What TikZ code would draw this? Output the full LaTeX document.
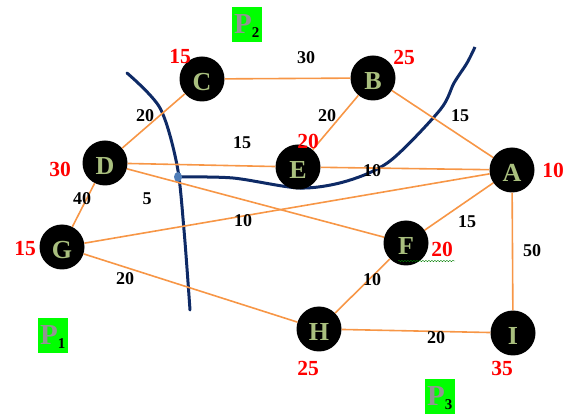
\documentclass[tikz,border=0pt]{standalone}
\usepackage{fontspec}
\setmainfont{Liberation Serif}
\usetikzlibrary{decorations.pathmorphing}
\definecolor{edgeor}{HTML}{F79646}
\definecolor{letgr}{HTML}{A9BF7E}
\definecolor{cutblue}{HTML}{0E2A66}
\definecolor{dotblue}{HTML}{4F7DB8}
\definecolor{pgreen}{HTML}{00FF00}
\tikzset{
  v/.style={circle,fill=black,minimum size=45pt,inner sep=0pt,text=letgr,text height=24pt,text depth=0pt,
    font=\fontsize{26}{26}\selectfont\bfseries},
  e/.style={draw=edgeor,line width=1.6pt},
  wt/.style={inner sep=0pt,font=\fontsize{18}{18}\selectfont\bfseries},
  cost/.style={inner sep=0pt,text=red,font=\fontsize{21.5}{21.5}\selectfont\bfseries},
  pl/.style={fill=pgreen,minimum width=30pt,minimum height=35pt,inner sep=0pt,text height=22pt,text depth=4pt,
    font=\fontsize{29}{29}\selectfont\bfseries},
  cut/.style={draw=cutblue,line width=3pt},
}
\newcommand{\plabel}[1]{{\color{gray!85}P}\textsubscript{\fontsize{15}{15}\selectfont #1}}

\begin{document}
\begin{tikzpicture}[x=1pt,y=-1pt]
\useasboundingbox (0,0) rectangle (574,414);
% cut lines
\draw[cut,line cap=round] plot[smooth] coordinates {(127,73) (160,108) (177,165) (184,230) (190,310)};
\draw[cut] plot[smooth] coordinates {(178,177) (233,178) (300,188) (347,181) (390,161) (440,110) (454,83) (467,63) (475,47)};
\fill[dotblue] (178,177) ellipse (4pt and 5pt);
% vertices
\node[v] (C) at (202,79){C}; \node[v] (B) at (373,78){B}; \node[v] (D) at (105,163){D};
\node[v] (E) at (298,167){E}; \node[v] (A) at (512,170){A}; \node[v] (G) at (62,247){G};
\node[v] (F) at (406,243){F}; \node[v] (H) at (319,329){H}; \node[v] (I) at (513,333){I};
\draw[line width=0.6pt] (382,77)--(382,98);
% edges
\draw[e] (C)--(B); \draw[e] (C)--(D); \draw[e] (D)--(E); \draw[e] (B)--(E); \draw[e] (B)--(A);
\draw[e] (E)--(A); \draw[e] (D)--(F); \draw[e] (G)--(A); \draw[e] (D)--(G); \draw[e] (G)--(H);
\draw[e] (F)--(A); \draw[e] (H)--(F); \draw[e] (H)--(I); \draw[e] (A)--(I);
% edge weights
\node[wt] (wCB) at (306,58){30}; \node[wt] (wCD) at (145,116){20}; \node[wt] (wDE) at (242,143){15};
\node[wt] (wBE) at (327,116){20}; \node[wt] (wBA) at (460,116){15}; \node[wt] (wEA) at (372,171){10};
\node[wt] (wDG) at (82,199){40}; \node[wt] (wDF) at (147,199){5}; \node[wt] (wGA) at (243,221){10};
\node[wt] (wGH) at (125,279){20}; \node[wt] (wFA) at (467,222){15}; \node[wt] (wHF) at (372,280){10};
\node[wt] (wAI) at (532,251){50}; \node[wt] (wHI) at (436,338){20};
% vertex costs
\node[cost] (cC) at (180,57){15}; \node[cost] (cB) at (404,57){25}; \node[cost] (cE) at (308,141){20};
\node[cost] (cD) at (60,169){30}; \node[cost] (cA) at (553,170){10}; \node[cost] (cG) at (25,249){15};
\node[cost] (cF) at (442,249){20}; \node[cost] (cH) at (308,368){25}; \node[cost] (cI) at (502,368){35};
\draw[green!50!black,line width=0.4pt,decorate,decoration={snake,amplitude=0.7pt,segment length=3pt}] (398,261)--(455,261);
% regions
\node[pl] (P2) at (247,25){\plabel{2}}; \node[pl] (P1) at (53,336){\plabel{1}}; \node[pl] (P3) at (440,397){\plabel{3}};
\end{tikzpicture}
\end{document}
